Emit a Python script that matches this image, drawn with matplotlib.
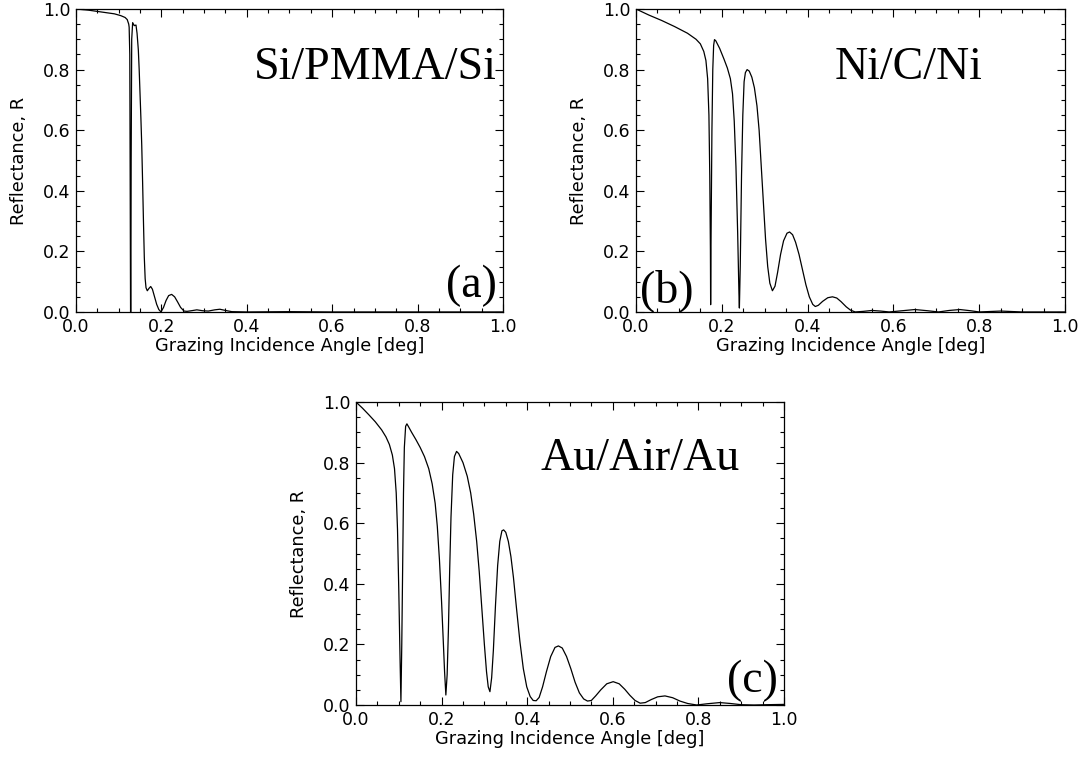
import matplotlib.pyplot as plt
from matplotlib.ticker import MultipleLocator, FormatStrFormatter

# Si/PMMA/Si
angle_a = [0.0, 0.03, 0.06, 0.09, 0.105, 0.115, 0.12, 0.1235, 0.1245, 0.126,
           0.1272, 0.1278, 0.1285, 0.1292, 0.1305, 0.1327, 0.1365, 0.1405, 0.143,
           0.146, 0.148, 0.150, 0.152, 0.154, 0.156, 0.158, 0.160, 0.162, 0.164,
           0.167, 0.171, 0.175, 0.179, 0.184, 0.189, 0.194, 0.199, 0.205, 0.211,
           0.217, 0.224, 0.231, 0.238, 0.245, 0.253, 0.26, 0.27, 0.283, 0.297,
           0.31, 0.325, 0.337, 0.35, 0.365, 0.4, 0.5, 0.6, 1.0]
refl_a = [1.0, 0.996, 0.99, 0.984, 0.978, 0.972, 0.965, 0.95, 0.94, 0.85,
          0.3, 0.0, 0.0, 0.5, 0.9, 0.955, 0.945, 0.947, 0.92,
          0.865, 0.8, 0.72, 0.64, 0.55, 0.43, 0.3, 0.18, 0.11, 0.08,
          0.07, 0.078, 0.084, 0.075, 0.05, 0.025, 0.008, 0.0, 0.015, 0.038,
          0.054, 0.058, 0.05, 0.033, 0.015, 0.003, 0.002, 0.004, 0.007, 0.004,
          0.003, 0.007, 0.009, 0.005, 0.001, 0.0, 0.001, 0.0, 0.0]

# Ni/C/Ni
angle_b = [0.0, 0.03, 0.06, 0.09, 0.12, 0.14, 0.15, 0.158, 0.163, 0.167,
           0.170, 0.172, 0.1735, 0.174, 0.175, 0.177, 0.179, 0.181, 0.183, 0.186,
           0.195, 0.205, 0.213, 0.220, 0.225, 0.229, 0.233, 0.237, 0.240, 0.241,
           0.243, 0.246, 0.249, 0.252, 0.255, 0.259, 0.264, 0.270, 0.276, 0.282,
           0.287, 0.292, 0.297, 0.302, 0.307, 0.312, 0.318, 0.324, 0.330, 0.337,
           0.344, 0.352, 0.358, 0.365, 0.372, 0.380, 0.388, 0.396, 0.404, 0.412,
           0.418, 0.425, 0.435, 0.447, 0.458, 0.468, 0.478, 0.490, 0.50, 0.511,
           0.53, 0.55, 0.57, 0.59, 0.62, 0.65, 0.68, 0.705, 0.73, 0.755,
           0.78, 0.80, 0.85, 0.90, 1.0]
refl_b = [1.0, 0.98, 0.962, 0.942, 0.92, 0.90, 0.885, 0.86, 0.83, 0.77,
          0.65, 0.45, 0.2, 0.024, 0.25, 0.6, 0.8, 0.88, 0.899, 0.895,
          0.87, 0.835, 0.805, 0.77, 0.72, 0.63, 0.48, 0.26, 0.06, 0.013,
          0.15, 0.45, 0.65, 0.76, 0.79, 0.80, 0.795, 0.775, 0.74, 0.68,
          0.6, 0.48, 0.36, 0.24, 0.15, 0.095, 0.07, 0.085, 0.13, 0.19,
          0.235, 0.26, 0.264, 0.255, 0.23, 0.19, 0.14, 0.09, 0.05, 0.025,
          0.018, 0.022, 0.035, 0.047, 0.05, 0.046, 0.034, 0.017, 0.006, 0.0,
          0.002, 0.005, 0.003, 0.0, 0.004, 0.008, 0.004, 0.0, 0.005, 0.008,
          0.004, 0.0, 0.003, 0.0, 0.0]

# Au/Air/Au
angle_c = [0.0, 0.015, 0.03, 0.045, 0.06, 0.07, 0.078, 0.085, 0.09, 0.094,
           0.097, 0.100, 0.103, 0.105, 0.107, 0.109, 0.111, 0.113, 0.116, 0.119,
           0.123, 0.13, 0.14, 0.15, 0.16, 0.17, 0.178, 0.185, 0.19, 0.195,
           0.2, 0.204, 0.207, 0.210, 0.213, 0.216, 0.219, 0.222, 0.226, 0.230,
           0.235, 0.24, 0.25, 0.26, 0.268, 0.275, 0.282, 0.288, 0.294, 0.300,
           0.305, 0.309, 0.313, 0.317, 0.321, 0.326, 0.331, 0.336, 0.341, 0.345,
           0.35, 0.356, 0.362, 0.368, 0.375, 0.383, 0.391, 0.399, 0.407, 0.414,
           0.421, 0.428, 0.436, 0.445, 0.455, 0.465, 0.473, 0.482, 0.492, 0.502,
           0.512, 0.522, 0.532, 0.541, 0.55, 0.56, 0.572, 0.586, 0.601, 0.615,
           0.628, 0.64, 0.652, 0.664, 0.676, 0.69, 0.705, 0.722, 0.74, 0.757,
           0.775, 0.796, 0.82, 0.85, 0.875, 0.9, 0.93, 0.96, 1.0]
refl_c = [1.0, 0.98, 0.958, 0.935, 0.908, 0.885, 0.86, 0.825, 0.78, 0.70,
          0.58, 0.38, 0.15, 0.011, 0.2, 0.45, 0.7, 0.85, 0.92, 0.928,
          0.918, 0.9, 0.876, 0.85, 0.82, 0.78, 0.73, 0.666, 0.59, 0.48,
          0.34, 0.21, 0.11, 0.033, 0.10, 0.25, 0.45, 0.62, 0.76, 0.82,
          0.837, 0.83, 0.80, 0.755, 0.70, 0.63, 0.54, 0.44, 0.32, 0.20,
          0.11, 0.06, 0.044, 0.09, 0.18, 0.33, 0.46, 0.54, 0.575, 0.578,
          0.57, 0.54, 0.49, 0.42, 0.32, 0.21, 0.12, 0.06, 0.028, 0.015,
          0.014, 0.025, 0.06, 0.11, 0.16, 0.19, 0.195, 0.188, 0.16, 0.12,
          0.075, 0.04, 0.02, 0.013, 0.015, 0.03, 0.05, 0.07, 0.077, 0.07,
          0.052, 0.032, 0.015, 0.006, 0.008, 0.018, 0.027, 0.030, 0.024, 0.013,
          0.005, 0.0, 0.004, 0.008, 0.005, 0.001, 0.0, 0.001, 0.002]

panels = [
    (angle_a, refl_a, "Si/PMMA/Si", "(a)"),
    (angle_b, refl_b, "Ni/C/Ni", "(b)"),
    (angle_c, refl_c, "Au/Air/Au", "(c)"),
]

# axes boxes in figure fraction
boxes = [
    [0.0701, 0.5906, 0.3939, 0.3976],
    [0.5867, 0.5906, 0.3958, 0.3976],
    [0.3284, 0.0748, 0.3948, 0.3976],
]

# text placement (x, y, ha) for big name and panel letter
name_pos = [(0.986, 0.77, 'right'), (0.635, 0.77, 'center'), (0.664, 0.776, 'center')]
tag_pos = [(0.986, 0.05, 'right'), (0.01, 0.033, 'left'), (0.986, 0.043, 'right')]

fig = plt.figure(figsize=(10.84, 7.62), dpi=100)

for i in range(3):
    x, y, name, tag = panels[i]
    ax = fig.add_axes(boxes[i])
    ax.plot(x, y, color='black', lw=0.9)
    ax.set_xlim(0, 1.0)
    ax.set_ylim(0, 1.0)
    ax.xaxis.set_major_locator(MultipleLocator(0.2))
    ax.xaxis.set_minor_locator(MultipleLocator(0.05))
    ax.yaxis.set_major_locator(MultipleLocator(0.2))
    ax.yaxis.set_minor_locator(MultipleLocator(0.05))
    ax.xaxis.set_major_formatter(FormatStrFormatter('%.1f'))
    ax.yaxis.set_major_formatter(FormatStrFormatter('%.1f'))
    ax.tick_params(which='both', direction='in', top=True, right=True,
                   labelsize=12.5, width=0.8)
    ax.tick_params(which='major', length=6, pad=4)
    ax.tick_params(which='minor', length=3)
    for s in ax.spines.values():
        s.set_linewidth(0.9)
    ax.set_xlabel("Grazing Incidence Angle [deg]", fontsize=12.8, labelpad=1)
    ax.set_ylabel("Reflectance, R", fontsize=12.8, labelpad=11)

    nx, ny, nha = name_pos[i]
    ax.text(nx, ny, name, transform=ax.transAxes, ha=nha, va='baseline',
            family='Liberation Serif', fontsize=33)
    tx, ty, tha = tag_pos[i]
    ax.text(tx, ty, tag, transform=ax.transAxes, ha=tha, va='baseline',
            family='Liberation Serif', fontsize=33)

fig.savefig("out.png", dpi=100)
